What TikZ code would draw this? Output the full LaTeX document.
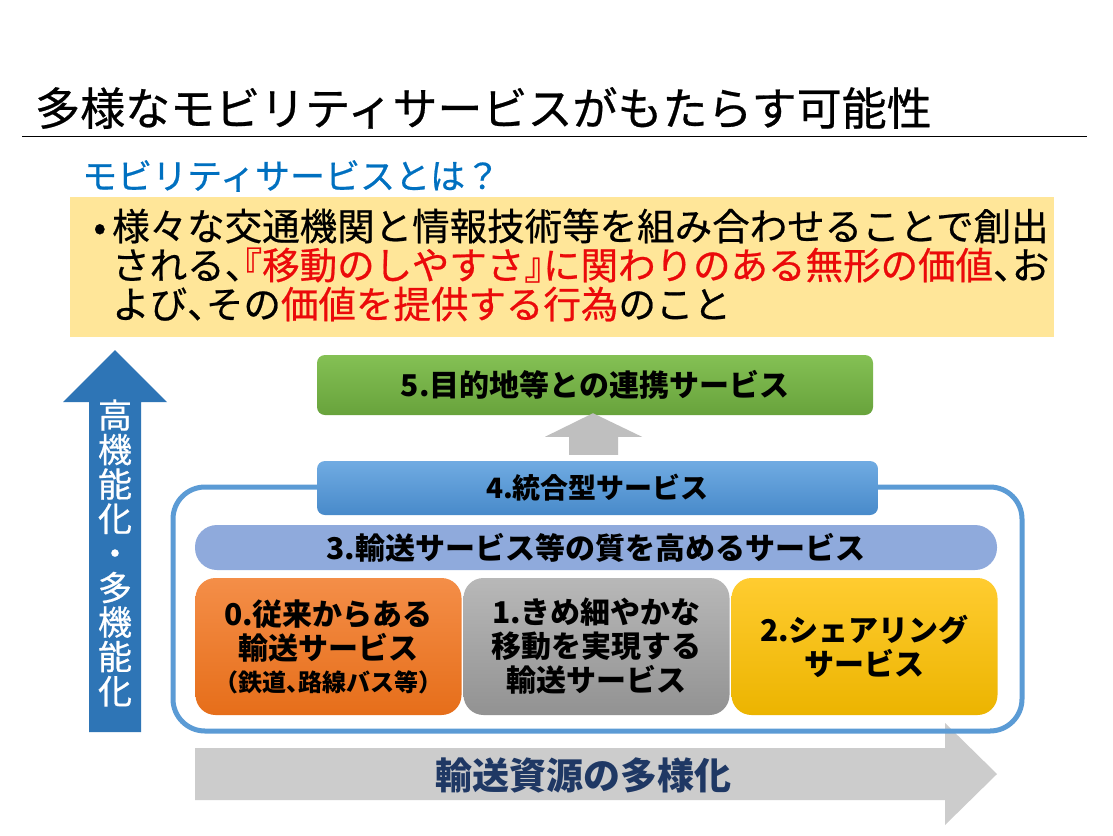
\documentclass[tikz,border=0pt]{standalone}
\usepackage{fontspec}
\setmainfont{Noto Sans CJK JP}
\usetikzlibrary{calc,positioning}
\definecolor{titleblue}{RGB}{0,112,192}
\definecolor{defyellow}{RGB}{255,230,153}
\definecolor{keyred}{RGB}{235,10,10}
\definecolor{arrowblue}{RGB}{46,117,182}
\definecolor{frameblue}{RGB}{91,155,213}
\definecolor{navytext}{RGB}{31,56,100}
\definecolor{resgray}{RGB}{204,204,204}
\definecolor{stepgray}{RGB}{191,191,191}
\definecolor{greentop}{RGB}{132,192,84}
\definecolor{greenbot}{RGB}{104,163,60}
\definecolor{bluetop}{RGB}{112,171,226}
\definecolor{bluebot}{RGB}{72,138,202}
\definecolor{qualblue}{RGB}{143,170,220}
\definecolor{orangetop}{RGB}{244,142,72}
\definecolor{orangebot}{RGB}{230,110,26}
\definecolor{graytop}{RGB}{184,184,184}
\definecolor{graybot}{RGB}{146,146,146}
\definecolor{goldtop}{RGB}{255,204,48}
\definecolor{goldbot}{RGB}{236,180,0}
\newcommand{\halfpunct}{\addfontfeature{RawFeature=+halt}}
\newcommand{\heavier}{\addfontfeature{FakeBold=0.6}}
\tikzset{
  layer/.style={inner sep=0pt, align=center, text=black,
                font=\fontsize{30}{36}\selectfont\bfseries},
  bar/.style={layer, rounded corners=8pt},
  tile/.style={layer, rounded corners=20pt, minimum width=266pt,
               minimum height=137pt},
}
\begin{document}
\begin{tikzpicture}[x=1pt,y=-1pt]
  \path[use as bounding box, fill=white] (0,0) rectangle (1113,835);

  % Heading and definition.
  \node[anchor=west, inner sep=0pt, font=\fontsize{45}{50}\selectfont\heavier]
    (title) at (35,108) {多様なモビリティサービスがもたらす可能性};
  \draw[black, line width=1pt] (22,136) -- (1087,136);
  \node[anchor=west, inner sep=0pt, text=titleblue,
        font=\fontsize{35}{40}\selectfont\heavier] (subtitle)
    at (82,176) {モビリティサービスとは？};
  \fill[defyellow] (70,197) rectangle (1054,337);
  \node[anchor=west, inner sep=0pt, align=left,
        font=\fontsize{37.5}{39}\selectfont\heavier\halfpunct] (deftext)
    at (112,265)
    {\llap{{\addfontfeature{RawFeature=-halt}•}\hspace{6pt}}様々な交通機関と情報技術等を組み合わせることで創出\\
     される、\textcolor{keyred}{『移動のしやすさ』に関わりのある無形の価値}、お\\
     よび、その\textcolor{keyred}{価値を提供する行為}のこと};

  % Vertical axis arrow.
  \fill[arrowblue] (89,732) -- (89,402) -- (63,402) -- (115,350)
    -- (167,402) -- (141,402) -- (141,732) -- cycle;
  \node[inner sep=0pt, align=center, text=white,
        font=\fontsize{34}{34.5}\selectfont\heavier] (upax) at (115,553)
    {高\\機\\能\\化\\・\\多\\機\\能\\化};

  % Horizontal axis arrow.
  \fill[resgray] (195,748) -- (945,748) -- (945,723) -- (997,774)
    -- (945,825) -- (945,800) -- (195,800) -- cycle;
  \node[inner sep=0pt, text=navytext,
        font=\fontsize{37}{40}\selectfont\bfseries] (resax) at (583,775)
    {輸送資源の多様化};

  % Frame round the transport layers.
  \draw[frameblue, line width=5pt, rounded corners=32pt]
    (173,487) rectangle (1022,731);

  % Service layers.
  \node[bar, shade, top color=greentop, bottom color=greenbot,
        minimum width=556pt, minimum height=60pt] (s5) at (595,385)
    {5.目的地等との連携サービス};
  \node[bar, shade, top color=bluetop, bottom color=bluebot,
        minimum width=561pt, minimum height=54pt,
        font=\fontsize{28}{34}\selectfont\bfseries] (s4) at (597.5,488)
    {4.統合型サービス};
  \node[layer, fill=qualblue, rounded corners=22pt,
        minimum width=802pt, minimum height=45pt] (s3) at (596,547.5)
    {3.輸送サービス等の質を高めるサービス};
  \node[tile, shade, top color=orangetop, bottom color=orangebot]
    (s0) at (328.5,646.5)
    {0.従来からある\\[-2pt]輸送サービス\\[-4pt]
     {\fontsize{24}{26}\selectfont\halfpunct （鉄道、路線バス等）}};
  \node[tile, shade, top color=graytop, bottom color=graybot]
    (s1) at (596.5,646.5)
    {1.きめ細やかな\\[-2pt]移動を実現する\\[-2pt]輸送サービス};
  \node[tile, shade, top color=goldtop, bottom color=goldbot]
    (s2) at (864.5,646.5)
    {2.シェアリング\\[-2pt]サービス};

  % Step from layer 4 to layer 5.
  \fill[stepgray] ($(s4.north)+(-28.5,-6)$) -- ($(s4.north)+(-28.5,-24)$)
    -- ($(s4.north)+(-52.5,-24)$) -- ($(s5.south)+(-2,-2)$)
    -- ($(s4.north)+(44.5,-24)$) -- ($(s4.north)+(20.5,-24)$)
    -- ($(s4.north)+(20.5,-6)$) -- cycle;
\end{tikzpicture}
\end{document}
